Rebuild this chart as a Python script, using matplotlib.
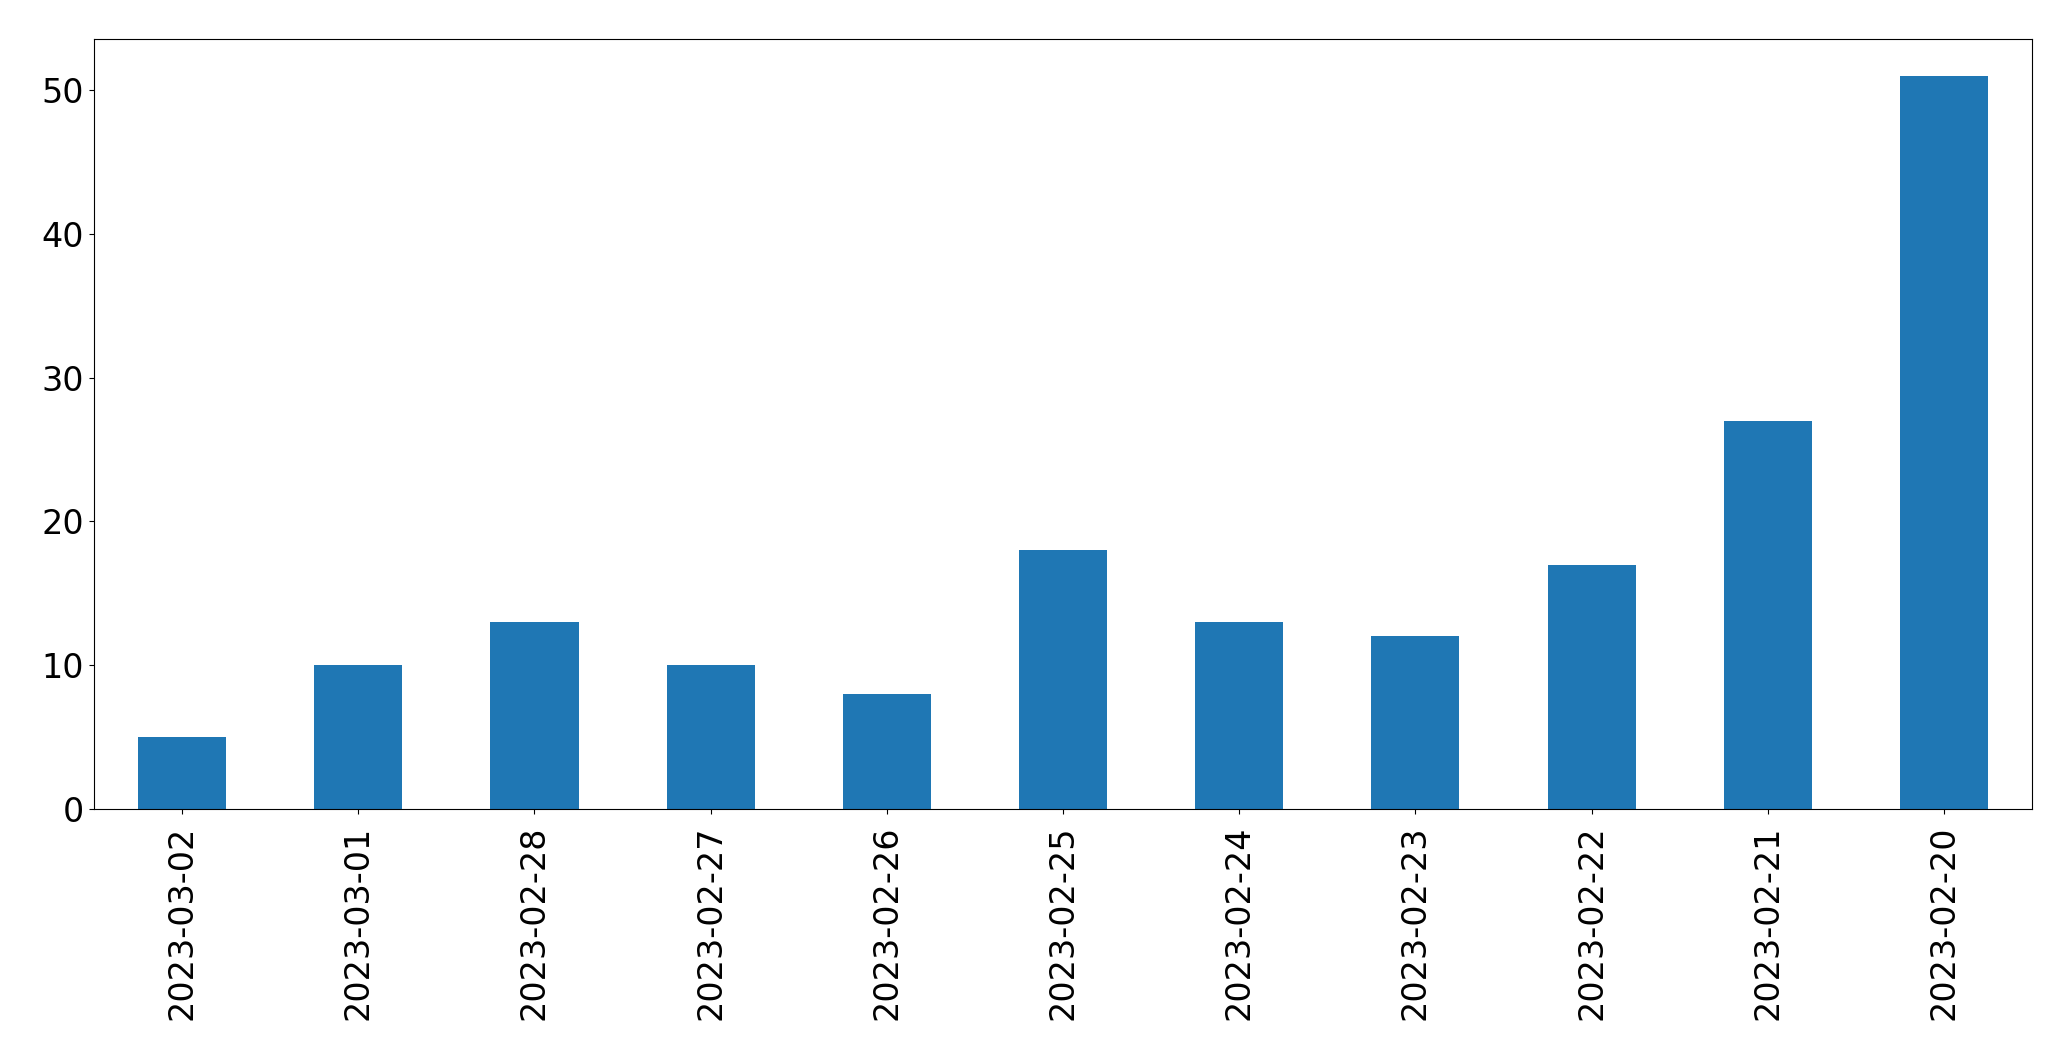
import matplotlib
matplotlib.use("Agg")
import matplotlib.pyplot as plt

dates = ["2023-03-02", "2023-03-01", "2023-02-28", "2023-02-27", "2023-02-26",
         "2023-02-25", "2023-02-24", "2023-02-23", "2023-02-22", "2023-02-21",
         "2023-02-20"]
counts = [5, 10, 13, 10, 8, 18, 13, 12, 17, 27, 51]

fig, ax = plt.subplots(figsize=(20.71, 10.61), dpi=100)
fig.subplots_adjust(left=94/2071, right=2032/2071, top=1-39/1061, bottom=1-809/1061)
x = list(range(len(dates)))
ax.bar(x, counts, width=0.5, color="#1f77b4")
ax.set_xticks(x)
ax.set_xticklabels(dates, rotation=90, fontsize=24)
ax.tick_params(axis="x", pad=8.5)
ax.tick_params(axis="y", labelsize=24)
ax.set_xlim(-0.5, len(dates) - 0.5)
ax.set_ylim(0, max(counts) * 1.05)
fig.savefig("out.png", dpi=100)
